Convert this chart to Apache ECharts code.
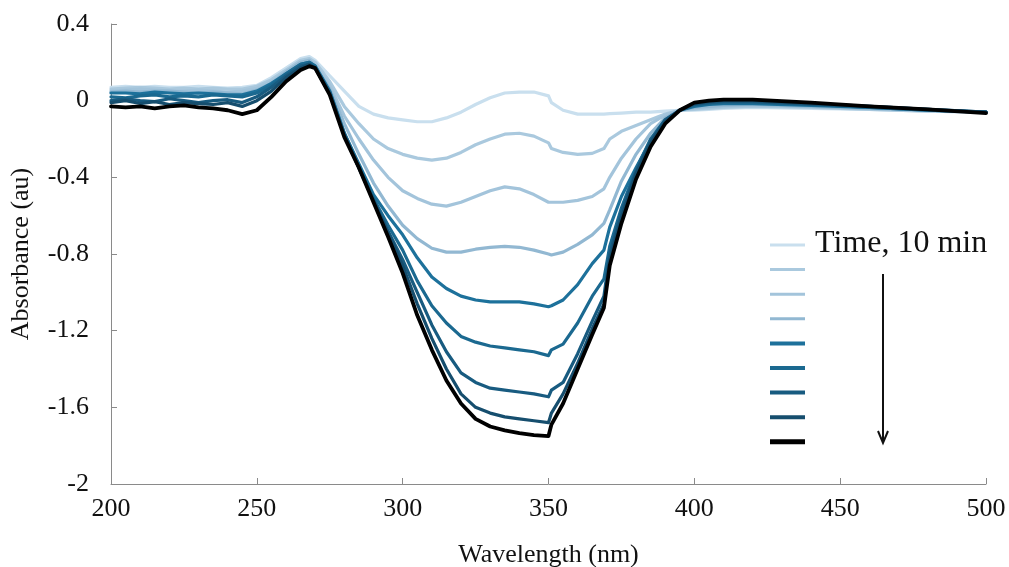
<!DOCTYPE html>
<html>
<head>
<meta charset="utf-8">
<script src="https://cdn.jsdelivr.net/npm/echarts@6/dist/echarts.min.js"></script>
<style>
  html, body { margin: 0; padding: 0; background: #fff; }
  #chart { width: 1009px; height: 567px; }
</style>
</head>
<body>
<div id="chart"></div>
<script>
// Wavelength grid (nm) shared by every spectrum
const wavelengths = [200,205,210,215,220,225,230,235,240,245,250,255,260,265,268,270,275,280,285,290,295,300,305,310,315,320,325,330,335,340,345,350,351,355,360,365,369,371,375,380,385,390,395,400,405,410,420,440,460,480,500];

// Difference absorbance spectra, earliest (lightest) to latest (black)
const spec1 = [0.07,0.075,0.07,0.075,0.07,0.07,0.075,0.07,0.065,0.07,0.08,
  0.12,0.17,0.22,0.23,0.21,
  0.13,0.05,-0.03,-0.07,-0.09,-0.10,-0.11,-0.11,-0.09,-0.06,-0.02,0.015,0.04,0.045,0.045,0.025,
  -0.01,-0.05,-0.07,-0.07,-0.07,-0.068,
  -0.065,-0.06,-0.06,-0.055,-0.05,-0.05,
  -0.045,-0.04,-0.035,-0.04,-0.045,-0.055,-0.06];
const spec2 = [0.06,0.065,0.07,0.065,0.06,0.065,0.06,0.065,0.06,0.06,0.075,
  0.11,0.16,0.21,0.22,0.20,
  0.10,-0.03,-0.12,-0.20,-0.25,-0.28,-0.30,-0.31,-0.30,-0.27,-0.23,-0.20,-0.175,-0.17,-0.185,-0.22,
  -0.25,-0.27,-0.28,-0.275,-0.25,-0.20,
  -0.16,-0.13,-0.10,-0.07,-0.05,-0.045,
  -0.04,-0.035,-0.03,-0.035,-0.045,-0.055,-0.06];
const spec3 = [0.05,0.055,0.06,0.055,0.05,0.05,0.055,0.05,0.045,0.05,0.065,
  0.10,0.15,0.20,0.21,0.19,
  0.08,-0.08,-0.20,-0.31,-0.40,-0.47,-0.51,-0.54,-0.55,-0.53,-0.50,-0.47,-0.45,-0.46,-0.49,-0.53,
  -0.53,-0.53,-0.52,-0.50,-0.46,-0.40,
  -0.30,-0.20,-0.12,-0.075,-0.05,-0.04,
  -0.035,-0.03,-0.025,-0.03,-0.04,-0.05,-0.06];
const spec4 = [0.045,0.05,0.045,0.05,0.05,0.045,0.04,0.045,0.04,0.035,0.055,
  0.09,0.15,0.20,0.21,0.18,
  0.06,-0.12,-0.28,-0.43,-0.55,-0.65,-0.72,-0.77,-0.79,-0.79,-0.775,-0.765,-0.76,-0.765,-0.78,-0.80,
  -0.805,-0.79,-0.75,-0.70,-0.64,-0.57,
  -0.42,-0.28,-0.17,-0.09,-0.05,-0.035,
  -0.03,-0.025,-0.02,-0.03,-0.04,-0.05,-0.06];
const spec5 = [0.04,0.04,0.035,0.045,0.04,0.035,0.04,0.035,0.03,0.03,0.05,
  0.09,0.14,0.19,0.20,0.18,
  0.05,-0.17,-0.33,-0.49,-0.60,-0.70,-0.82,-0.92,-0.98,-1.02,-1.04,-1.05,-1.05,-1.05,-1.06,-1.075,
  -1.07,-1.04,-0.96,-0.85,-0.78,-0.66,
  -0.50,-0.35,-0.21,-0.11,-0.05,-0.03,
  -0.02,-0.015,-0.015,-0.025,-0.035,-0.05,-0.06];
const spec6 = [0.02,0.015,0.025,0.03,0.02,0.025,0.02,0.03,0.025,0.02,0.04,
  0.08,0.14,0.19,0.20,0.18,
  0.045,-0.17,-0.34,-0.51,-0.65,-0.78,-0.94,-1.07,-1.16,-1.23,-1.26,-1.28,-1.29,-1.30,-1.31,-1.33,
  -1.30,-1.27,-1.16,-1.02,-0.93,-0.76,
  -0.56,-0.36,-0.20,-0.10,-0.05,-0.025,
  -0.015,-0.01,-0.01,-0.02,-0.035,-0.05,-0.06];
const spec7 = [0.0,0.01,0.0,-0.005,0.01,0.0,-0.01,0.0,0.005,-0.01,0.02,
  0.07,0.13,0.18,0.19,0.17,
  0.04,-0.18,-0.35,-0.52,-0.68,-0.83,-1.00,-1.17,-1.31,-1.42,-1.47,-1.50,-1.51,-1.52,-1.53,-1.545,
  -1.51,-1.47,-1.32,-1.15,-1.02,-0.80,
  -0.58,-0.37,-0.21,-0.10,-0.05,-0.02,
  -0.01,-0.005,-0.005,-0.02,-0.03,-0.045,-0.06];
const spec8 = [-0.01,0.0,-0.015,-0.005,-0.02,-0.01,-0.015,-0.02,-0.01,-0.03,0.0,
  0.05,0.12,0.17,0.19,0.17,
  0.035,-0.18,-0.35,-0.52,-0.69,-0.86,-1.06,-1.24,-1.40,-1.53,-1.60,-1.63,-1.65,-1.66,-1.67,-1.68,
  -1.63,-1.53,-1.37,-1.19,-1.06,-0.83,
  -0.61,-0.38,-0.22,-0.11,-0.05,-0.015,
  -0.005,0.0,0.0,-0.015,-0.03,-0.045,-0.06];
const spec9 = [-0.03,-0.035,-0.03,-0.04,-0.03,-0.025,-0.035,-0.04,-0.05,-0.07,-0.05,
  0.02,0.10,0.16,0.18,0.17,
  0.03,-0.19,-0.35,-0.53,-0.71,-0.90,-1.12,-1.30,-1.46,-1.58,-1.66,-1.70,-1.72,-1.735,-1.745,-1.75,
  -1.69,-1.58,-1.40,-1.22,-1.08,-0.86,
  -0.64,-0.41,-0.24,-0.12,-0.05,-0.01,
  0.0,0.005,0.005,-0.01,-0.03,-0.045,-0.065];

const spectra = [spec1, spec2, spec3, spec4, spec5, spec6, spec7, spec8, spec9];
const spectrumNames = ['t1','t2','t3','t4','t5','t6','t7','t8','t9'];
const spectrumColors = ['#c9dfee','#aac9de','#a3c4db','#92b8d2','#1d719b','#1b6990','#185b80','#164e6e','#000000'];
const spectrumWidths = [3.2, 3.2, 3.2, 3.2, 3.2, 3.2, 3.2, 3.2, 3.8];
const legendTitle = 'Time, 10 min';

const serif = "'Liberation Serif', 'Times New Roman', serif";

const chart = echarts.init(document.getElementById('chart'), null, { renderer: 'canvas' });

const series = spectra.map((vals, k) => ({
  name: spectrumNames[k],
  type: 'line',
  data: wavelengths.map((w, i) => [w, vals[i]]),
  showSymbol: false,
  smooth: false,
  lineStyle: { color: spectrumColors[k], width: spectrumWidths[k], join: 'round', cap: 'round' },
  itemStyle: { color: spectrumColors[k] },
  z: 2 + k
}));

// Key: short colour swatches stacked downward, with a time arrow beside them
const keyX = 770, keyTop = 245, keyStep = 24.6, keyLen = 35;
const graphic = spectrumColors.map((c, k) => ({
  type: 'line',
  shape: { x1: keyX, y1: keyTop + k * keyStep, x2: keyX + keyLen, y2: keyTop + k * keyStep },
  style: { stroke: c, lineWidth: k < 4 ? 3 : (k < 8 ? 4 : 5) }
}));
graphic.push({
  type: 'text',
  left: 815, top: 228,
  style: { text: legendTitle, font: '32px ' + serif, fill: '#111' }
});
graphic.push({
  type: 'line',
  shape: { x1: 883, y1: 274, x2: 883, y2: 442 },
  style: { stroke: '#111', lineWidth: 2 }
});
graphic.push({
  type: 'polyline',
  shape: { points: [[878, 431], [883, 443], [888, 431]] },
  style: { stroke: '#111', lineWidth: 2, fill: null }
});

chart.setOption({
  animation: false,
  backgroundColor: '#fff',
  grid: { left: 111, right: 23, top: 24, bottom: 83, containLabel: false, outerBoundsMode: 'none' },
  xAxis: {
    type: 'value',
    min: 200, max: 500, interval: 50,
    name: 'Wavelength (nm)',
    nameLocation: 'middle',
    nameGap: 58,
    nameTextStyle: { fontFamily: serif, fontSize: 26, color: '#111' },
    axisLine: { show: true, onZero: false, lineStyle: { color: '#8a8a8a', width: 1 } },
    axisTick: { show: true, inside: true, length: 6, lineStyle: { color: '#8a8a8a' } },
    axisLabel: { fontFamily: serif, fontSize: 26, color: '#111', margin: 12 },
    splitLine: { show: false }
  },
  yAxis: {
    type: 'value',
    min: -2, max: 0.4, interval: 0.4,
    name: 'Absorbance (au)',
    nameLocation: 'middle',
    nameRotate: 90,
    nameGap: 77,
    nameTextStyle: { fontFamily: serif, fontSize: 26, color: '#111' },
    axisLine: { show: true, onZero: false, lineStyle: { color: '#8a8a8a', width: 1 } },
    axisTick: { show: true, inside: true, length: 6, lineStyle: { color: '#8a8a8a' } },
    axisLabel: {
      fontFamily: serif, fontSize: 26, color: '#111', margin: 22,
      formatter: v => String(Math.round(v * 10) / 10)
    },
    splitLine: { show: false }
  },
  series: series,
  graphic: graphic
});
</script>
</body>
</html>
